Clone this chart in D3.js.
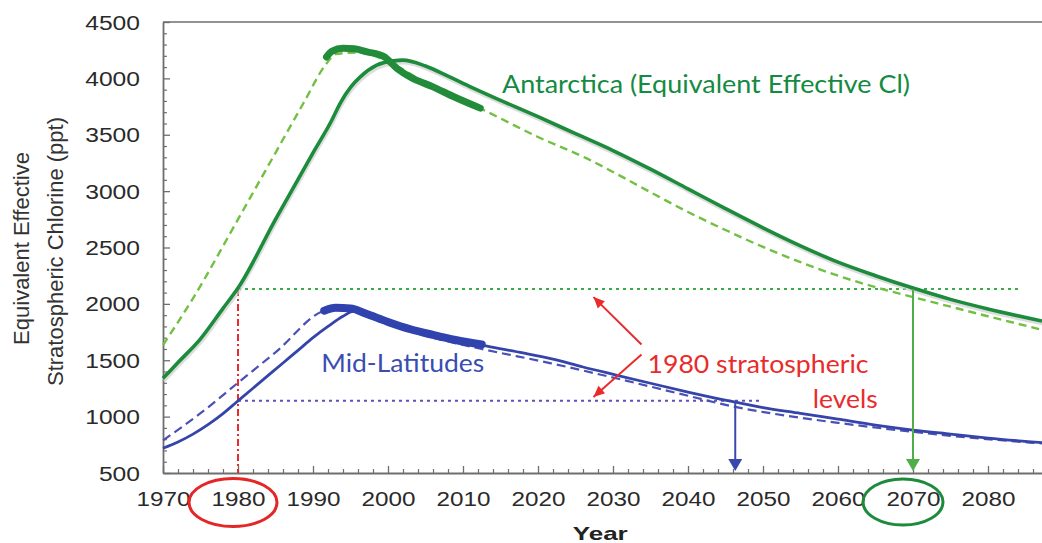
<!DOCTYPE html>
<html>
<head>
<meta charset="utf-8">
<script src="https://cdn.jsdelivr.net/npm/d3@7"></script>
<style>
  html, body { margin: 0; padding: 0; background: #fff; }
  svg { display: block; }
</style>
</head>
<body>
<svg id="chart" width="1042" height="543"></svg>
<script>
// ---------------- DATA ----------------
const xTickLabels = [1970, 1980, 1990, 2000, 2010, 2020, 2030, 2040, 2050, 2060, 2070, 2080];
const yTickLabels = [500, 1000, 1500, 2000, 2500, 3000, 3500, 4000, 4500];

// Antarctica, solid
const antSolidYears = [1970, 1972, 1975, 1978, 1980, 1985, 1990, 1992.5, 1993.6, 1995, 1996.3, 1998.5, 2000.7, 2002, 2005, 2008, 2011, 2015, 2020, 2025, 2030, 2035, 2040, 2045, 2050, 2055, 2060, 2065, 2070, 2075, 2080, 2087.2];
const antSolid      = [1340, 1480, 1690, 1960, 2140, 2750, 3340, 3629, 3777, 3920, 4013, 4117, 4155, 4162, 4110, 4020, 3925, 3805, 3660, 3510, 3360, 3195, 3020, 2845, 2675, 2515, 2370, 2250, 2140, 2040, 1955, 1848];

// Antarctica, dashed (model)
const antDashYears = [1970, 1974, 1980, 1985, 1988.7, 1991.8, 1993, 1996, 2000, 2004, 2008, 2012.3, 2020, 2026.5, 2030, 2035, 2040, 2045, 2050, 2055, 2060, 2065, 2070, 2075, 2080, 2087.2];
const antDash      = [1635, 2049, 2750, 3340, 3777, 4132, 4215, 4230, 4150, 4000, 3860, 3733, 3480, 3290, 3170, 2990, 2815, 2655, 2505, 2370, 2250, 2148, 2060, 1975, 1890, 1770];

// Antarctica, observations (thick)
const antObsYears = [1991.8, 1992.5, 1994, 1995.5, 1997.2, 1999.4, 2001.2, 2003, 2006, 2009, 2012.3];
const antObs      = [4190, 4240, 4267, 4262, 4235, 4195, 4088, 4010, 3925, 3830, 3736];

// Mid-latitudes, solid
const midSolidYears = [1970, 1972, 1974, 1976, 1978, 1980, 1983, 1986, 1988, 1990, 1992, 1994, 1995.5, 1998, 2001.6, 2005, 2008.3, 2013.2, 2018, 2022, 2026, 2030.4, 2035, 2040, 2046, 2050, 2055, 2060, 2065, 2070, 2075, 2080, 2087.2];
const midSolid      = [720, 775, 845, 929, 1027, 1140, 1308, 1476, 1588, 1700, 1800, 1890, 1935, 1890, 1797, 1740, 1694, 1625, 1565, 1510, 1440, 1369, 1296, 1218, 1132, 1080, 1029, 977, 925, 881, 845, 810, 769];

// Mid-latitudes, dashed (model)
const midDashYears = [1970, 1975, 1980, 1985, 1991.8, 1994, 2000, 2006, 2012.5, 2021.6, 2030.4, 2040, 2046, 2055, 2060, 2067.8, 2075, 2087.2];
const midDash      = [790, 1030, 1300, 1570, 1945, 1960, 1820, 1700, 1600, 1475, 1340, 1185, 1090, 990, 945, 881, 830, 762];

// Mid-latitudes, observations (thick)
const midObsYears = [1991.5, 1993, 1995, 1997, 2000, 2003, 2006, 2009, 2012.5];
const midObs      = [1940, 1965, 1960, 1915, 1840, 1775, 1725, 1680, 1640];

// 1980 reference levels and return years
const refYear = 1980;
const antRef1980 = 2131;
const midRef1980 = 1140;
const antReturnYear = 2070;
const midReturnYear = 2046.3;
const antRefEndYear = 2084.5;
const midRefEndYear = 2049.8;

// ---------------- CHART ----------------
const svg = d3.select("#chart");
const x = d3.scaleLinear().domain([1970, 2087.2]).range([163, 1042]);
const y = d3.scaleLinear().domain([500, 4500]).range([473, 22]);

const AX = "#6e6e6e";
const GREEN_DARK = "#1c8b3b";
const GREEN_LIGHT = "#72c043";
const BLUE = "#3544a8";
const RED = "#ea2b2b";

// top frame line
svg.append("line")
  .attr("x1", x(1970)).attr("x2", x(2087.2))
  .attr("y1", y(4500)).attr("y2", y(4500))
  .attr("stroke", AX).attr("stroke-width", 1.5);

// minor y ticks
const yMinor = d3.range(500, 4501, 100).filter(v => v % 500 !== 0);
svg.append("g").attr("transform", `translate(${x(1970)},0)`)
  .call(d3.axisLeft(y).tickValues(yMinor).tickSize(-4).tickSizeOuter(0).tickFormat(""))
  .call(g => g.select(".domain").remove())
  .call(g => g.selectAll("line").attr("stroke", AX).attr("stroke-width", 1.2));

// minor x ticks
const xMinor = d3.range(1972, 2088, 2).filter(v => v % 10 !== 0);
svg.append("g").attr("transform", `translate(0,${y(500)})`)
  .call(d3.axisBottom(x).tickValues(xMinor).tickSize(-4).tickSizeOuter(0).tickFormat(""))
  .call(g => g.select(".domain").remove())
  .call(g => g.selectAll("line").attr("stroke", AX).attr("stroke-width", 1.2));

// y axis
svg.append("g").attr("transform", `translate(${x(1970)},0)`)
  .call(d3.axisLeft(y).tickValues(yTickLabels).tickSize(-7).tickSizeOuter(0).tickPadding(23).tickFormat(d3.format("d")))
  .call(g => g.select(".domain").attr("stroke", AX).attr("stroke-width", 1.8))
  .call(g => g.selectAll(".tick line").attr("stroke", AX).attr("stroke-width", 1.3))
  .call(g => g.selectAll(".tick text")
    .attr("font-family", "'Liberation Sans', Arial, sans-serif")
    .attr("font-size", 19.5).attr("fill", "#2a2a2a")
    .attr("dy", "0.36em")
    .attr("textLength", d => String(d).length * 13.7)
    .attr("lengthAdjust", "spacingAndGlyphs"));

// x axis
svg.append("g").attr("transform", `translate(0,${y(500)})`)
  .call(d3.axisBottom(x).tickValues(xTickLabels).tickSize(-7).tickSizeOuter(0).tickPadding(19).tickFormat(d3.format("d")))
  .call(g => g.select(".domain").attr("stroke", AX).attr("stroke-width", 1.8))
  .call(g => g.selectAll(".tick line").attr("stroke", AX).attr("stroke-width", 1.3))
  .call(g => g.selectAll(".tick text")
    .attr("font-family", "'Liberation Sans', Arial, sans-serif")
    .attr("font-size", 19.5).attr("fill", "#2a2a2a")
    .attr("textLength", 54)
    .attr("lengthAdjust", "spacingAndGlyphs"));

// axis titles
svg.append("text")
  .attr("transform", `translate(29,${y(2500) + 1}) rotate(-90)`)
  .attr("text-anchor", "middle")
  .attr("font-family", "'Liberation Sans', Arial, sans-serif")
  .attr("font-size", 22).attr("fill", "#333")
  .text("Equivalent Effective");
svg.append("text")
  .attr("transform", `translate(63,${y(2500) + 4}) rotate(-90)`)
  .attr("text-anchor", "middle")
  .attr("font-family", "'Liberation Sans', Arial, sans-serif")
  .attr("font-size", 22).attr("fill", "#333")
  .text("Stratospheric Chlorine (ppt)");
svg.append("text")
  .attr("x", x(2028.3)).attr("y", 540)
  .attr("text-anchor", "middle")
  .attr("font-family", "'Liberation Sans', Arial, sans-serif")
  .attr("font-weight", "bold")
  .attr("font-size", 19).attr("fill", "#222")
  .attr("textLength", 55).attr("lengthAdjust", "spacingAndGlyphs")
  .text("Year");

// helpers
const lineGen = d3.line().x(d => x(d[0])).y(d => y(d[1])).curve(d3.curveMonotoneX);
const zipXY = (xs, ys) => xs.map((v, i) => [v, ys[i]]);

// reference dotted lines
svg.append("line")
  .attr("x1", x(refYear)).attr("x2", x(antRefEndYear))
  .attr("y1", y(antRef1980)).attr("y2", y(antRef1980))
  .attr("stroke", "#3dab4a").attr("stroke-width", 2).attr("stroke-dasharray", "3,4");
svg.append("line")
  .attr("x1", x(refYear)).attr("x2", x(midRefEndYear))
  .attr("y1", y(midRef1980)).attr("y2", y(midRef1980))
  .attr("stroke", "#5a52bb").attr("stroke-width", 2).attr("stroke-dasharray", "3,4");

// red vertical dash-dot at 1980
svg.append("line")
  .attr("x1", x(refYear)).attr("x2", x(refYear))
  .attr("y1", y(antRef1980)).attr("y2", y(500))
  .attr("stroke", RED).attr("stroke-width", 2).attr("stroke-dasharray", "7,3,2,3");

// Antarctica dashed model
svg.append("path").datum(zipXY(antDashYears, antDash))
  .attr("d", lineGen).attr("fill", "none")
  .attr("stroke", GREEN_LIGHT).attr("stroke-width", 2.4).attr("stroke-dasharray", "8,5");

// Antarctica solid: soft shadow then line
svg.append("path").datum(zipXY(antSolidYears, antSolid))
  .attr("d", lineGen).attr("fill", "none")
  .attr("transform", "translate(1,3)")
  .attr("stroke", "#cfcfcf").attr("stroke-width", 3).attr("opacity", 0.7);
svg.append("path").datum(zipXY(antSolidYears, antSolid))
  .attr("d", lineGen).attr("fill", "none")
  .attr("stroke", GREEN_DARK).attr("stroke-width", 3.6);

// Antarctica observations
svg.append("path").datum(zipXY(antObsYears, antObs))
  .attr("d", lineGen).attr("fill", "none")
  .attr("stroke", "#238c3a").attr("stroke-width", 7).attr("stroke-linecap", "round")
  .attr("stroke-linejoin", "round");

// Mid-lat dashed model
svg.append("path").datum(zipXY(midDashYears, midDash))
  .attr("d", lineGen).attr("fill", "none")
  .attr("stroke", "#4a50b5").attr("stroke-width", 2.2).attr("stroke-dasharray", "9,5");

// Mid-lat solid
svg.append("path").datum(zipXY(midSolidYears, midSolid))
  .attr("d", lineGen).attr("fill", "none")
  .attr("stroke", BLUE).attr("stroke-width", 2.8);

// Mid-lat observations
svg.append("path").datum(zipXY(midObsYears, midObs))
  .attr("d", lineGen).attr("fill", "none")
  .attr("stroke", "#2f42ad").attr("stroke-width", 8).attr("stroke-linecap", "round")
  .attr("stroke-linejoin", "round");

// vertical arrows to return years
function downArrow(yr, fromVal, color) {
  const xa = x(yr), y0 = y(fromVal), tip = y(500) - 2;
  svg.append("line").attr("x1", xa).attr("x2", xa).attr("y1", y0).attr("y2", tip - 10)
    .attr("stroke", color).attr("stroke-width", 2);
  svg.append("path")
    .attr("d", `M${xa - 7},${tip - 12}L${xa + 7},${tip - 12}L${xa},${tip}Z`)
    .attr("fill", color);
}
downArrow(midReturnYear, midRef1980, "#3a48ad");
downArrow(antReturnYear, antRef1980, "#4fae4a");

// red annotation arrows
function redArrow(x1, y1, x2, y2) {
  svg.append("line").attr("x1", x1).attr("y1", y1).attr("x2", x2).attr("y2", y2)
    .attr("stroke", RED).attr("stroke-width", 2);
  const a = Math.atan2(y2 - y1, x2 - x1), L = 11, w = 5;
  const bx = x2 - L * Math.cos(a), by = y2 - L * Math.sin(a);
  const px = -Math.sin(a) * w, py = Math.cos(a) * w;
  svg.append("path")
    .attr("d", `M${x2},${y2}L${bx + px},${by + py}L${bx - px},${by - py}Z`)
    .attr("fill", RED);
}
redArrow(x(2033.8), y(1640), x(2027.4), y(2060));
redArrow(x(2033.8), y(1550), x(2027.4), y(1175));

// annotation texts
const annFont = "Lato, 'Open Sans', sans-serif";
svg.append("text")
  .attr("x", x(2034.6)).attr("y", y(1390))
  .attr("font-family", annFont).attr("font-size", 25).attr("fill", RED)
  .attr("textLength", 221).attr("lengthAdjust", "spacingAndGlyphs")
  .text("1980 stratospheric");
svg.append("text")
  .attr("x", x(2065.3)).attr("y", y(1075))
  .attr("text-anchor", "end")
  .attr("font-family", annFont).attr("font-size", 25).attr("fill", RED)
  .attr("textLength", 65).attr("lengthAdjust", "spacingAndGlyphs")
  .text("levels");
svg.append("text")
  .attr("x", x(1991.1)).attr("y", y(1400))
  .attr("font-family", annFont).attr("font-size", 25).attr("fill", "#3a4db0")
  .attr("textLength", 163).attr("lengthAdjust", "spacingAndGlyphs")
  .text("Mid-Latitudes");
svg.append("text")
  .attr("x", x(2015.2)).attr("y", y(3869))
  .attr("font-family", annFont).attr("font-size", 25).attr("fill", "#158a42")
  .attr("textLength", 408).attr("lengthAdjust", "spacingAndGlyphs")
  .text("Antarctica (Equivalent Effective Cl)");

// highlight ellipses around 1980 and 2070 labels
svg.append("ellipse")
  .attr("cx", x(refYear) - 5).attr("cy", 502.5).attr("rx", 44).attr("ry", 24)
  .attr("fill", "none").attr("stroke", "#e52626").attr("stroke-width", 3);
svg.append("ellipse")
  .attr("cx", x(antReturnYear) - 10).attr("cy", 502).attr("rx", 40).attr("ry", 23)
  .attr("fill", "none").attr("stroke", "#1e8a3c").attr("stroke-width", 3);
</script>
</body>
</html>
